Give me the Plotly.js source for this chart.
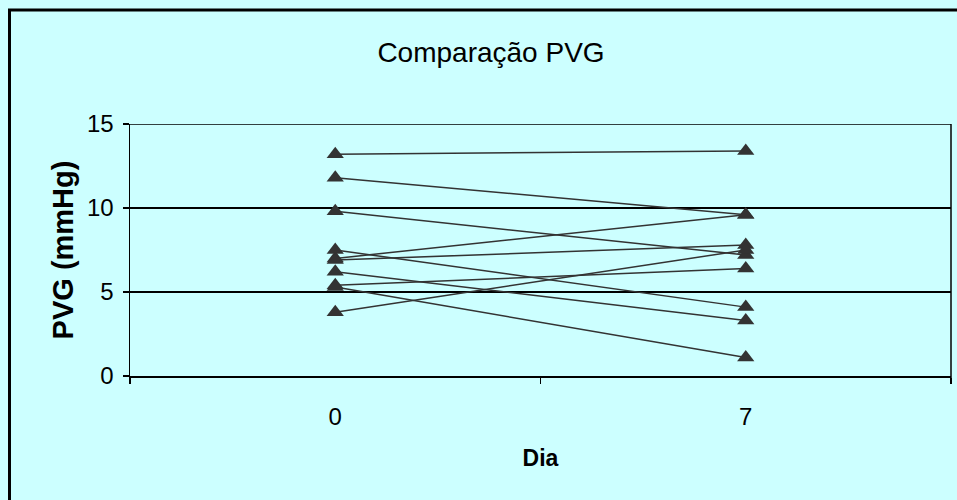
<!DOCTYPE html>
<html>
<head>
<meta charset="utf-8">
<script src="https://cdn.plot.ly/plotly-3.0.1.min.js"></script>
<style>html,body{margin:0;padding:0;background:#CCFFFF;}</style>
</head>
<body>
<div id="chart" style="width:957px;height:500px;"></div>
<script>
const days = ['0', '7'];
const pvgDay0 = [13.2, 11.8, 9.8, 7.5, 7.0, 6.9, 6.2, 5.4, 5.3, 3.8];
const pvgDay7 = [13.4, 9.6, 7.2, 4.1, 9.6, 7.8, 3.3, 6.4, 1.1, 7.5];
const yTicks = [0, 5, 10, 15];

const traces = pvgDay0.map((v0, i) => ({
  type: 'scatter',
  mode: 'lines+markers',
  x: days,
  y: [v0, pvgDay7[i]],
  line: {color: '#333333', width: 1.5},
  marker: {symbol: 'triangle-up', size: 15, color: '#333333'},
  showlegend: false,
  hoverinfo: 'skip'
}));

const font = 'Arial, "Liberation Sans", sans-serif';
const layout = {
  width: 957, height: 500,
  paper_bgcolor: '#CCFFFF',
  plot_bgcolor: '#CCFFFF',
  margin: {l: 130, r: 6, t: 124, b: 124},
  showlegend: false,
  title: {text: 'Comparação PVG', x: 491/957, xanchor: 'center', y: 1 - 52/500, yanchor: 'middle',
          font: {family: font, size: 28, color: '#000'}},
  xaxis: {
    type: 'category', range: [-0.5, 1.5],
    tickson: 'boundaries', ticks: 'outside', ticklen: 6, tickwidth: 1.5, tickcolor: '#000',
    showline: true, linecolor: '#000', linewidth: 1.5,
    showgrid: false, zeroline: false,
    tickfont: {family: font, size: 24, color: '#000'},
    ticklabelstandoff: 19,
    title: {text: '<b>Dia</b>', font: {family: font, size: 23, color: '#000'}, standoff: 20}
  },
  yaxis: {
    range: [0, 15], tickvals: yTicks,
    ticks: 'outside', ticklen: 6, tickwidth: 1.5, tickcolor: '#000',
    showline: true, linecolor: '#000', linewidth: 1.5,
    showgrid: true, gridcolor: '#000', gridwidth: 1.5, zeroline: false,
    tickfont: {family: font, size: 24, color: '#000'},
    ticklabelstandoff: 4,
    title: {text: '<b>PVG (mmHg)</b>', font: {family: font, size: 29, color: '#000'}, standoff: 5}
  },
  shapes: [
    {type: 'line', xref: 'paper', yref: 'paper', x0: 1, x1: 1, y0: -7/252, y1: 1,
     line: {color: '#000', width: 1.5}},
    {type: 'line', xref: 'paper', yref: 'y', x0: 0, x1: 1, y0: 15, y1: 15,
     line: {color: '#000', width: 1.5}},
    {type: 'rect', xref: 'paper', yref: 'paper',
     x0: (9.5 - 130)/821, x1: 1.02, y0: -0.6, y1: (376 - 10)/252,
     line: {color: '#000', width: 3}, fillcolor: 'rgba(0,0,0,0)', layer: 'above'}
  ]
};

Plotly.newPlot('chart', traces, layout, {displayModeBar: false, staticPlot: true});
</script>
</body>
</html>
